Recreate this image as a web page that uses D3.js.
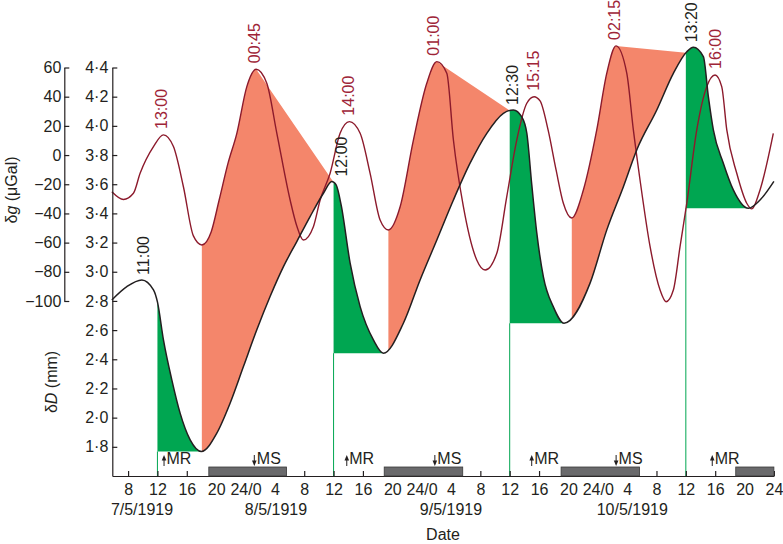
<!DOCTYPE html>
<html><head><meta charset="utf-8">
<script src="https://cdn.jsdelivr.net/npm/d3@7"></script>
<style>
body{margin:0;background:#fff}
text{font-family:"Liberation Sans",Arial,Helvetica,sans-serif;fill:#231f20}
</style>
</head><body>
<svg id="chart" width="783" height="544"></svg>
<script>
// ---- data (time in hours from 7/5/1919 00:00) ----
const redT = [5.79,7.37,8.73,9.64,11.46,12.82,14.18,15.54,16.90,18.05,19.32,20.41,21.63,22.82,24.18,25.45,26.90,28.27,30.08,30.99,31.89,33.25,34.17,35.53,36.89,38.16,39.62,40.98,42.34,43.47,45.07,46.88,48.70,50.07,51.43,52.33,53.69,55.51,56.65,58.24,59.60,60.96,62.33,63.32,64.14,65.23,66.32,67.31,68.46,70.04,71.86,73.23,74.49,75.95,76.85,77.76,79.13,80.49,81.31,82.30,83.21,84.13,85.49,86.85,87.98,88.89,89.58,90.94,92.30,92.98,94.11,95.92];
const redG = [-25.1,-30.4,-26.2,-12.5,5.8,13.8,5.8,-21.7,-55.4,-61.6,-52.7,-30.8,-5.4,14.9,46.9,58.8,49.2,14.9,-30.8,-48.6,-58.2,-49.1,-30.8,-12.5,14.9,22.9,14.9,-12.5,-44.5,-51.3,-35.4,10.3,49.2,64.0,56.1,10.3,-35.4,-71.9,-78.8,-67.3,-28.5,10.3,35.5,40.0,37.1,17.2,-10.2,-33.0,-43.1,-23.9,17.2,56.1,74.8,56.1,17.2,-17.1,-62.8,-92.5,-100.5,-92.5,-62.8,-33.0,17.2,46.9,54.9,46.9,17.2,-12.5,-33.0,-36.9,-23.9,14.9];
const blackT = [5.79,7.83,9.87,11.46,12.00,12.82,13.96,15.09,16.46,18.00,20.09,21.90,23.72,25.54,27.35,29.17,30.99,32.80,34.62,35.76,36.35,37.03,38.25,39.62,41.43,42.79,45.51,47.79,50.07,52.33,54.60,56.88,59.14,60.50,61.65,62.33,63.01,63.69,64.59,65.95,67.41,70.95,73.23,75.49,77.31,80.04,82.30,84.13,85.02,86.39,87.07,87.75,89.11,90.47,92.52,94.11,96.0];
const blackD = [2.807,2.898,2.944,2.876,2.793,2.533,2.259,2.031,1.848,1.768,1.894,2.099,2.350,2.602,2.830,3.035,3.207,3.378,3.538,3.618,3.595,3.458,3.061,2.761,2.533,2.442,2.647,2.944,3.218,3.492,3.744,3.949,4.086,4.109,4.061,3.951,3.595,3.266,2.965,2.759,2.647,2.922,3.287,3.583,3.835,4.109,4.360,4.508,4.538,4.474,4.200,3.972,3.744,3.561,3.435,3.492,3.62];

const noonT = [12, 36, 60, 84];
const blackLowT = [18.00, 42.79, 67.41, 92.52];
const redLowT = [18.05, 43.47, 68.46];
const redPeakT = [25.45, 50.07, 74.49];
const salmonEndT = [36, 60, 84];

const moonDownStart = [19.0, 42.9, 67.0, 90.8];
const moonDownEnd = [29.6, 53.6, 77.7, 96.0];
const moonRiseT = [12.9, 37.8, 63.0, 87.6];
const moonSetT = [25.2, 49.8, 74.5];

const redLabels = ["13:00","00:45","14:00","01:00","15:15","02:15","16:00"];
const redLabelT = [12.6, 25.2, 38.0, 49.6, 63.2, 74.2, 88.0];
const redLabelG = [13.8, 58.8, 22.9, 64.0, 40.0, 74.8, 54.9];
const blackLabels = ["11:00","12:00","12:30","13:20"];
const blackLabelT = [10.1, 37.1, 60.3, 84.8];
const blackLabelD = [2.944, 3.618, 4.109, 4.538];

const xTicks = d3.range(8, 97, 4);
const gTicks = d3.range(-100, 61, 20);
const dTicks = [1.8,2.0,2.2,2.4,2.6,2.8,3.0,3.2,3.4,3.6,3.8,4.0,4.2,4.4];
const dateLabels = ["7/5/1919","8/5/1919","9/5/1919","10/5/1919"];
const dateT = [9.9, 28.15, 52.0, 76.7];

// ---- styles ----
const C = {green:"#00a651", salmon:"#f4866b", red:"#8c1a2c", redText:"#9e2437", black:"#231f20", bar:"#6a6a6c"};

const svg = d3.select("#chart");
const x = d3.scaleLinear().domain([5.85, 96]).range([112.3, 773.9]);
const yG = d3.scaleLinear().domain([-100, 60]).range([301, 67.5]);
const yD = d3.scaleLinear().domain([1.6, 4.4]).range([476, 67.5]);

const gFill = svg.append("g");
const gLines = svg.append("g");
const gAxes = svg.append("g");

const redPx = redT.map((t,i)=>[x(t), yG(redG[i])]);
const blackPx = blackT.map((t,i)=>[x(t), yD(blackD[i])]);

gLines.append("path").attr("d", d3.line().curve(d3.curveMonotoneX)(redPx))
  .attr("fill","none").attr("stroke",C.red).attr("stroke-width",1.4);
gLines.append("path").attr("d", d3.line().curve(d3.curveMonotoneX)(blackPx))
  .attr("fill","none").attr("stroke",C.black).attr("stroke-width",1.5);

// exact evaluator of d3.curveMonotoneX through the same pixel points
function monotoneEval(p){
  const n=p.length, t=new Array(n).fill(0);
  for(let i=1;i<n-1;i++){
    const h0=p[i][0]-p[i-1][0], h1=p[i+1][0]-p[i][0];
    const s0=(p[i][1]-p[i-1][1])/h0, s1=(p[i+1][1]-p[i][1])/h1;
    const q=(s0*h1+s1*h0)/(h0+h1);
    t[i]=(Math.sign(s0)+Math.sign(s1))*Math.min(Math.abs(s0),Math.abs(s1),0.5*Math.abs(q))||0;
  }
  t[0]=(3*(p[1][1]-p[0][1])/(p[1][0]-p[0][0])-t[1])/2;
  t[n-1]=(3*(p[n-1][1]-p[n-2][1])/(p[n-1][0]-p[n-2][0])-t[n-2])/2;
  const bis=d3.bisector(d=>d[0]).right;
  return function(px){
    let i=Math.min(Math.max(bis(p,px)-1,0),n-2);
    const [x0,y0]=p[i],[x1,y1]=p[i+1], dx=(x1-x0)/3;
    const c1=y0+dx*t[i], c2=y1-dx*t[i+1], s=(px-x0)/(x1-x0), u=1-s;
    return u*u*u*y0+3*u*u*s*c1+3*u*s*s*c2+s*s*s*y1;
  };
}
const redY = monotoneEval(redPx);
const blackY = monotoneEval(blackPx);

// salmon regions
redLowT.forEach((t0,i)=>{
  const x0=x(t0), xp=x(redPeakT[i]), x1=x(salmonEndT[i]);
  const pts=[];
  for(let px=x0; px<xp; px+=0.5) pts.push([px, redY(px)]);
  pts.push([xp, redY(xp)]);
  pts.push([x1, blackY(x1)]);
  for(let px=x1; px>x0; px-=0.5) pts.push([px, blackY(px)]);
  pts.push([x0, blackY(x0)]);
  gFill.append("path").attr("d", d3.line()(pts)+"Z").attr("fill",C.salmon);
});
// green regions
noonT.forEach((t0,i)=>{
  const xa=x(t0), xb=x(blackLowT[i]), yb=blackY(xb);
  const pts=[];
  for(let px=xa; px<xb; px+=0.5) pts.push([px, blackY(px)]);
  pts.push([xb, yb]); pts.push([xa, yb]);
  gFill.append("path").attr("d", d3.line()(pts)+"Z").attr("fill",C.green);
  gFill.append("line").attr("x1",xa).attr("x2",xa).attr("y1",yb).attr("y2",yD(1.6))
    .attr("stroke",C.green).attr("stroke-width",1);
});

// ---- axes ----
const fmtD = d => d.toFixed(1).replace(".", "\u00b7");
const axG = gAxes.append("g").attr("transform","translate(64.3,0)")
  .call(d3.axisLeft(yG).tickValues(gTicks).tickSizeInner(-5).tickSizeOuter(0).tickPadding(3));
const axD = gAxes.append("g").attr("transform","translate(112.3,0)")
  .call(d3.axisLeft(yD).tickValues(dTicks).tickFormat(fmtD).tickSizeInner(-5).tickSizeOuter(0).tickPadding(4));
const axX = gAxes.append("g").attr("transform","translate(0,476)")
  .call(d3.axisBottom(x).tickValues(xTicks).tickFormat(d => d===96 ? "24" : (d%24===0 ? "24/0" : String(d%24))).tickSizeInner(-5).tickSizeOuter(0).tickPadding(8));
[axG, axD, axX].forEach(a=>{
  a.selectAll("text").style("font-size","16px").attr("fill",C.black);
  a.selectAll("path,line").attr("stroke",C.black).attr("stroke-width",1.2);
  a.attr("font-family",null).attr("font-size",null);
});

// moon bars
moonDownStart.forEach((s,i)=>{
  gAxes.append("rect").attr("x",x(s)).attr("y",467).attr("width",x(moonDownEnd[i])-x(s)).attr("height",9)
    .attr("fill",C.bar).attr("stroke","#3a3a3a").attr("stroke-width",0.8);
});
// MR / MS arrows
moonRiseT.forEach(t=>{
  const px=x(t);
  gAxes.append("line").attr("x1",px).attr("x2",px).attr("y1",466).attr("y2",459).attr("stroke",C.black).attr("stroke-width",1);
  gAxes.append("path").attr("d",`M${px-2.3},${460.5}L${px},${455}L${px+2.3},${460.5}Z`).attr("fill",C.black);
  gAxes.append("text").attr("x",px+2.5).attr("y",464).style("font-size","16px").text("MR");
});
moonSetT.forEach(t=>{
  const px=x(t);
  gAxes.append("line").attr("x1",px).attr("x2",px).attr("y1",455).attr("y2",462).attr("stroke",C.black).attr("stroke-width",1);
  gAxes.append("path").attr("d",`M${px-2.3},${460.5}L${px},${466}L${px+2.3},${460.5}Z`).attr("fill",C.black);
  gAxes.append("text").attr("x",px+2.5).attr("y",464).style("font-size","16px").text("MS");
});

// date labels
dateLabels.forEach((s,i)=>{
  gAxes.append("text").attr("x",x(dateT[i])).attr("y",515).attr("text-anchor","middle").style("font-size","16px").text(s);
});
gAxes.append("text").attr("x",443).attr("y",540).attr("text-anchor","middle").style("font-size","16px").text("Date");

// y titles
const tg = gAxes.append("text").attr("transform","translate(17,190) rotate(-90)").attr("text-anchor","middle").style("font-size","16px");
tg.append("tspan").text("\u03b4");
tg.append("tspan").attr("font-style","italic").text("g");
tg.append("tspan").text(" (\u03bcGal)");
const td = gAxes.append("text").attr("transform","translate(57,382) rotate(-90)").attr("text-anchor","middle").style("font-size","16px");
td.append("tspan").text("\u03b4");
td.append("tspan").attr("font-style","italic").text("D");
td.append("tspan").text(" (mm)");

// peak labels
redLabels.forEach((s,i)=>{
  gAxes.append("text").attr("transform",`translate(${x(redLabelT[i])},${yG(redLabelG[i])-6}) rotate(-90)`)
    .attr("dy","0.35em").style("font-size","16px").style("fill",C.redText).text(s);
});
blackLabels.forEach((s,i)=>{
  gAxes.append("text").attr("transform",`translate(${x(blackLabelT[i])},${yD(blackLabelD[i])-5}) rotate(-90)`)
    .attr("dy","0.35em").style("font-size","16px").text(s);
});
</script>
</body></html>
